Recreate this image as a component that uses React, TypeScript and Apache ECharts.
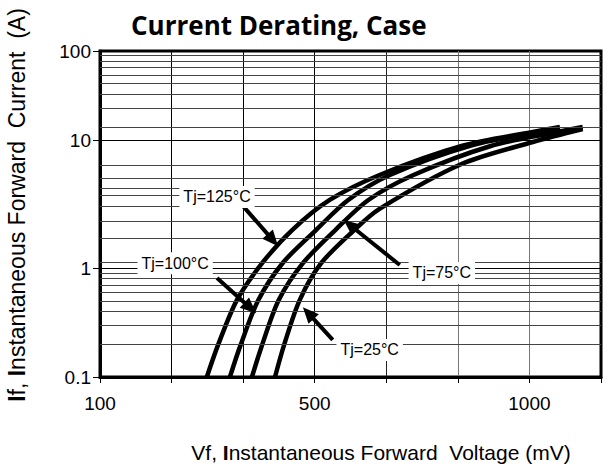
import React, { useEffect, useRef } from "react";
import * as echarts from "echarts";

// ---- data ----
const SERIES_NAMES = ["Tj=125°C", "Tj=100°C", "Tj=75°C", "Tj=25°C"];
const VF_125 = [299, 320, 355, 402, 458, 535, 651, 842, 1008, 1071];
const IF_125 = [0.1, 0.197, 0.508, 1.09, 1.98, 3.4, 5.33, 8.98, 12.3, 14.0];
const VF_100 = [342, 362, 395, 440, 503, 578, 675, 860, 1025, 1071];
const IF_100 = [0.1, 0.197, 0.508, 1.09, 1.98, 3.4, 5.33, 8.98, 12.3, 13.3];
const VF_75 = [383, 402, 433, 478, 548, 625, 730, 910, 1065, 1124];
const IF_75 = [0.1, 0.197, 0.508, 1.09, 1.98, 3.4, 5.33, 8.98, 12.3, 14.0];
const VF_25 = [426, 443, 472, 515, 592, 651, 842, 1008, 1124];
const IF_25 = [0.1, 0.197, 0.508, 1.09, 1.98, 2.9, 6.49, 9.65, 13.3];

const X_LABEL_VALUES = [100, 500, 1000];
const Y_LABEL_VALUES = [0.1, 1, 10, 100];
const Y_MINOR_LINES = [0.2, 0.3, 0.4, 0.5, 0.6, 0.7, 0.8, 0.9, 1.1, 1.7, 2.3, 3.05, 3.7, 4.2, 5.0, 6.4, 14, 23, 33, 43, 54, 65, 76, 90];
const Y_MAJOR_LINES = [1, 10];

const ANNOT_TEXT = ["Tj=125°C", "Tj=100°C", "Tj=75°C", "Tj=25°C"];
const ANNOT_VF = [318, 240, 796, 628];
const ANNOT_IF = [3.59, 1.09, 0.9, 0.177];
const ARROW_FROM_VF = [365, 318, 698, 542];
const ARROW_FROM_IF = [3.1, 0.81, 1.055, 0.219];
const ARROW_TO_VF = [422, 380, 582, 488];
const ARROW_TO_IF = [1.65, 0.43, 2.17, 0.386];

// ---- scale of the printed chart (its axes are piecewise) ----
const X_SEGMENTS: [number, number, number, number][] = [
  [100, 500, 0, 3],
  [500, 1000, 3, 6],
];
function xPos(mv: number): number {
  const seg = mv <= 500 ? X_SEGMENTS[0] : X_SEGMENTS[1];
  return seg[2] + ((mv - seg[0]) / (seg[1] - seg[0])) * (seg[3] - seg[2]);
}
const Y_DECADE_TOPS = [0, 109, 237, 326]; // axis units at 0.1, 1, 10, 100
function yPos(a: number): number {
  const l = Math.log10(a) + 1; // 0..3
  const i = Math.min(2, Math.max(0, Math.floor(l)));
  const f = l - i;
  return Y_DECADE_TOPS[i] + f * (Y_DECADE_TOPS[i + 1] - Y_DECADE_TOPS[i]);
}

const FONT = "'Liberation Sans', Arial, sans-serif";

export default function App() {
  const ref = useRef<HTMLDivElement>(null);
  useEffect(() => {
    document.body.style.margin = "0";
    if (!ref.current) return;
    const chart = echarts.init(ref.current, null, { renderer: "svg" });

    const curves = [
      [VF_125, IF_125],
      [VF_100, IF_100],
      [VF_75, IF_75],
      [VF_25, IF_25],
    ].map(([vf, i], k) => ({
      name: SERIES_NAMES[k],
      type: "line",
      smooth: 0.3,
      symbol: "none",
      z: 3,
      lineStyle: { color: "#000", width: 4.5 },
      data: vf.map((v, j) => [xPos(v), yPos(i[j])]),
    }));

    const gridSeries = {
      type: "line",
      data: [],
      z: 1,
      silent: true,
      markLine: {
        silent: true,
        symbol: ["none", "none"],
        label: { show: false },
        animation: false,
        data: [
          ...Y_MINOR_LINES.map((v) => ({ yAxis: yPos(v), lineStyle: { color: "#444", width: 1, type: "solid" } })),
          ...Y_MAJOR_LINES.map((v) => ({ yAxis: yPos(v), lineStyle: { color: "#000", width: 1, type: "solid" } })),
        ],
      },
    };

    const annotSeries = {
      type: "line",
      data: [],
      z: 5,
      silent: true,
      markLine: {
        silent: true,
        symbol: ["none", "triangle"],
        symbolSize: [14, 16],
        label: { show: false },
        lineStyle: { color: "#000", width: 4, type: "solid" },
        animation: false,
        data: ARROW_FROM_VF.map((v, k) => [
          { coord: [xPos(v), yPos(ARROW_FROM_IF[k])] },
          { coord: [xPos(ARROW_TO_VF[k]), yPos(ARROW_TO_IF[k])] },
        ]),
      },
      markPoint: {
        silent: true,
        symbol: "rect",
        symbolSize: 1,
        itemStyle: { color: "rgba(0,0,0,0)" },
        animation: false,
        label: {
          show: true,
          position: "inside",
          formatter: "{b}",
          color: "#000",
          fontSize: 16,
          fontFamily: FONT,
          backgroundColor: "#fff",
          padding: [3, 4],
        },
        data: ANNOT_TEXT.map((t, k) => ({ name: t, coord: [xPos(ANNOT_VF[k]), yPos(ANNOT_IF[k])] })),
      },
    };

    const option = {
      animation: false,
      title: {
        text: "Current Derating, Case",
        left: 126,
        top: 7,
        textStyle: { fontFamily: "'Open Sans', sans-serif", fontWeight: "bold", fontSize: 26, color: "#000" },
      },
      grid: { left: 100, right: 7, top: 51, bottom: 89, show: true, borderColor: "#000", borderWidth: 3, containLabel: false },
      xAxis: {
        type: "value",
        min: 0,
        max: 7,
        interval: 1,
        axisLine: { show: true, lineStyle: { color: "#000", width: 3 } },
        axisTick: { show: true, length: 6, lineStyle: { color: "#000", width: 1 } },
        axisLabel: {
          margin: 17,
          fontSize: 19,
          fontFamily: FONT,
          color: "#000",
          formatter: (p: number) => {
            const v = X_LABEL_VALUES.find((x) => Math.abs(xPos(x) - p) < 1e-6);
            return v === undefined ? "" : String(v);
          },
        },
        splitLine: {
          show: true,
          lineStyle: { color: ["#000", "#000", "#000", "#000", "#222", "#777", "#777", "#000"], width: 1 },
        },
      },
      yAxis: {
        type: "value",
        min: 0,
        max: 326,
        axisLine: { show: true, lineStyle: { color: "#000", width: 3 } },
        axisTick: { show: true, length: 7, customValues: Y_LABEL_VALUES.map(yPos), lineStyle: { color: "#000", width: 1 } },
        axisLabel: {
          margin: 9,
          fontSize: 19,
          fontFamily: FONT,
          color: "#000",
          customValues: Y_LABEL_VALUES.map(yPos),
          formatter: (u: number) => {
            const v = Y_LABEL_VALUES.find((y) => Math.abs(yPos(y) - u) < 1e-6);
            return v === undefined ? "" : String(v);
          },
        },
        splitLine: { show: false },
      },
      graphic: [
        {
          type: "text",
          x: 381,
          y: 452,
          style: {
            text: "Vf, {b|I}nstantaneous Forward  Voltage (mV)",
            font: `21px ${FONT}`,
            fill: "#000",
            align: "center",
            verticalAlign: "middle",
            rich: { b: { fontWeight: "bold", fontSize: 21, fontFamily: FONT, fill: "#000" } },
          },
        },
        {
          type: "text",
          x: 17,
          y: 205,
          rotation: Math.PI / 2,
          style: {
            text: "{b|I}f, {b|I}nstantaneous Forward  Current  (A)",
            font: `23px ${FONT}`,
            fill: "#000",
            align: "center",
            verticalAlign: "middle",
            rich: { b: { fontWeight: "bold", fontSize: 23, fontFamily: FONT, fill: "#000" } },
          },
        },
      ],
      series: [gridSeries, ...curves, annotSeries],
    };

    chart.setOption(option as any);
    return () => chart.dispose();
  }, []);
  return <div ref={ref} style={{ width: 608, height: 466 }} />;
}
